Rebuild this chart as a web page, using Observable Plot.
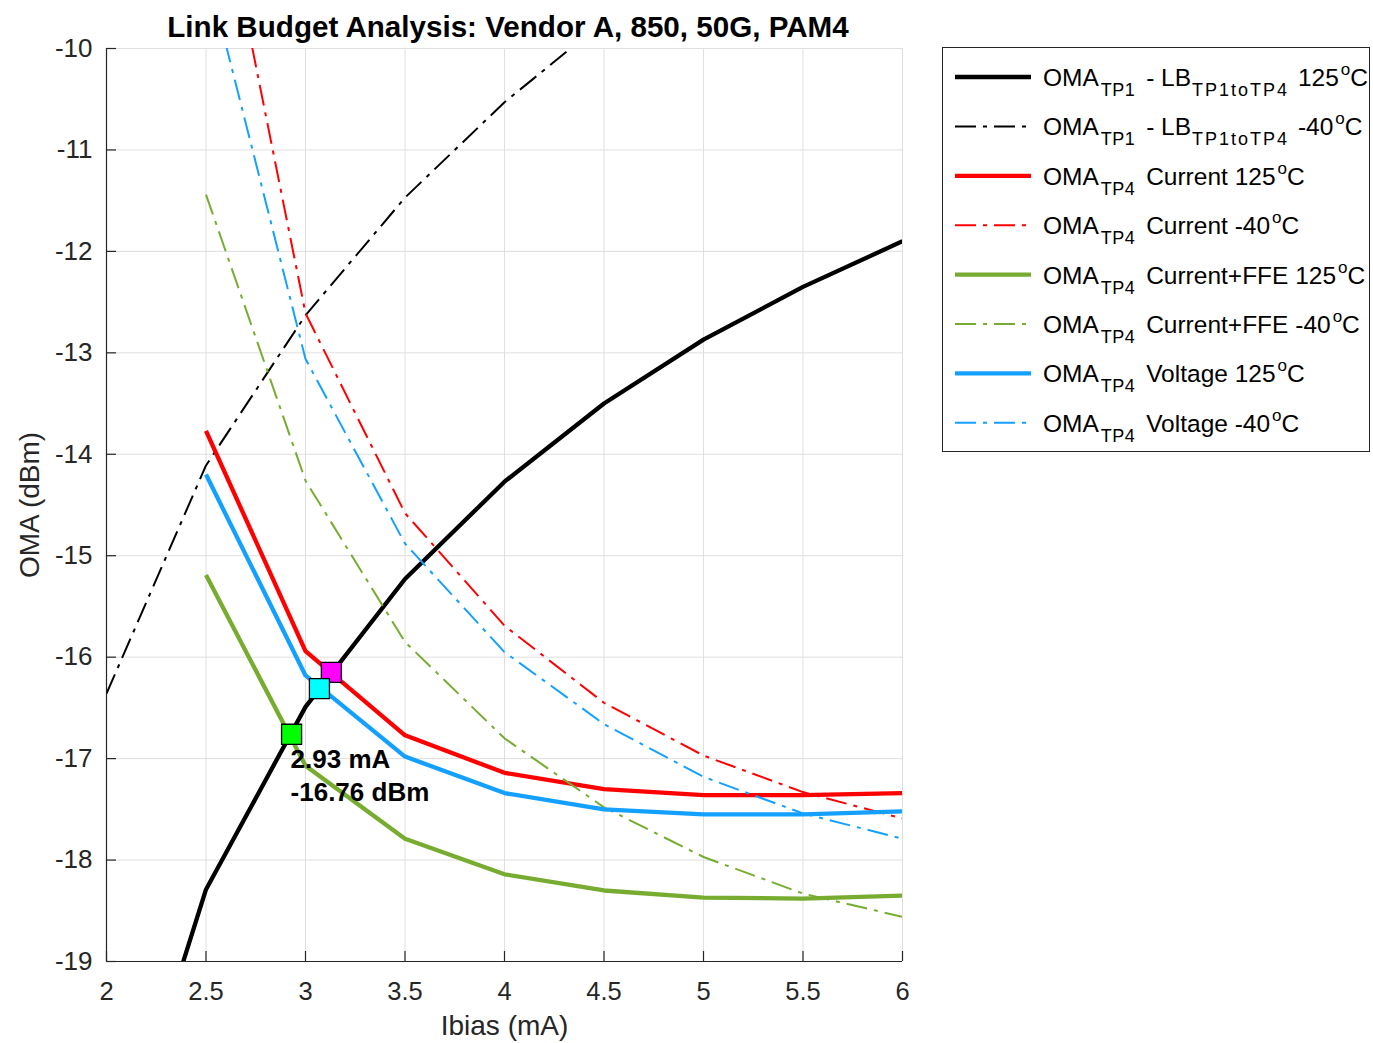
<!DOCTYPE html>
<html>
<head>
<meta charset="utf-8">
<script src="https://cdn.jsdelivr.net/npm/d3@7"></script>
<script src="https://cdn.jsdelivr.net/npm/@observablehq/plot@0.6"></script>
<style>
  body { margin: 0; background: #fff; font-family: "Liberation Sans", Arial, Helvetica, sans-serif; }
  #wrap { position: relative; width: 1373px; height: 1043px; overflow: hidden; }
  #title { position: absolute; left: 0; width: 1016px; top: 12px; text-align: center; font-weight: bold; font-size: 29.6px; line-height: 29px; color: #000; }
  #chart { position: absolute; left: 0; top: 0; }
  #legend { position: absolute; left: 942px; top: 47px; }
</style>
</head>
<body>
<div id="wrap">
  <div id="chart"></div>
  <div id="title">Link Budget Analysis: Vendor A, 850, 50G, PAM4</div>
  <div id="legend"></div>
</div>
<script>
// ---------- data ----------
const ibias = [2, 2.5, 3, 3.5, 4, 4.5, 5, 5.5, 6];
const lbTP1toTP4_125 = [-21.4, -18.29, -16.49, -15.23, -14.27, -13.50, -12.87, -12.35, -11.90];
const lbTP1toTP4_m40 = [-16.36, -14.11, -12.63, -11.47, -10.53, -9.73, null, null, null];
const current_125    = [null, -13.77, -15.94, -16.77, -17.14, -17.30, -17.36, -17.36, -17.34];
const current_m40    = [null, -7.72, -12.61, -14.58, -15.69, -16.45, -16.97, -17.33, -17.59];
const currentFFE_125 = [null, -15.19, -17.07, -17.79, -18.14, -18.30, -18.37, -18.38, -18.35];
const currentFFE_m40 = [null, -11.44, -14.26, -15.85, -16.80, -17.48, -17.97, -18.33, -18.56];
const voltage_125    = [null, -14.20, -16.18, -16.98, -17.34, -17.50, -17.55, -17.55, -17.52];
const voltage_m40    = [null, -9.19, -13.06, -14.88, -15.95, -16.66, -17.18, -17.54, -17.79];

const xTicks = [2, 2.5, 3, 3.5, 4, 4.5, 5, 5.5, 6];
const yTicks = [-19, -18, -17, -16, -15, -14, -13, -12, -11, -10];

// intersection markers
const markerX = [2.93, 3.13, 3.07];
const markerY = [-16.76, -16.15, -16.31];
const markerFill = ["#00ff00", "#ff00ff", "#00ffff"];

// legend entries: [main, sub, middle, sub2, temperature]
const legendParts = [
  ["OMA", "TP1", " - LB", "TP1toTP4", " 125"],
  ["OMA", "TP1", " - LB", "TP1toTP4", " -40"],
  ["OMA", "TP4", " Current 125", null, null],
  ["OMA", "TP4", " Current -40", null, null],
  ["OMA", "TP4", " Current+FFE 125", null, null],
  ["OMA", "TP4", " Current+FFE -40", null, null],
  ["OMA", "TP4", " Voltage 125", null, null],
  ["OMA", "TP4", " Voltage -40", null, null]
];

// ---------- styles ----------
const seriesValues = [lbTP1toTP4_125, lbTP1toTP4_m40, current_125, current_m40,
                      currentFFE_125, currentFFE_m40, voltage_125, voltage_m40];
const seriesColor = ["#000000", "#000000", "#ff0000", "#ff0000", "#77ac30", "#77ac30", "#14a0ff", "#14a0ff"];
const seriesSolid = [true, false, true, false, true, false, true, false];
const DASHDOT = "21,7,4,7";

const lineMarks = seriesValues.map((vals, i) => {
  const rows = ibias.map((x, j) => ({x, y: vals[j]})).filter(d => d.y != null);
  return Plot.line(rows, {
    x: "x", y: "y", stroke: seriesColor[i],
    strokeWidth: seriesSolid[i] ? 4.3 : 2,
    strokeDasharray: seriesSolid[i] ? null : DASHDOT,
    strokeLinecap: "butt", strokeLinejoin: "round",
    clip: true
  });
});

const markers = markerX.map((x, i) => ({x, y: markerY[i], fill: markerFill[i]}));

const W = 930, H = 1043, ML = 106, MR = 28, MT = 48, MB = 82;
const FW = W - ML - MR, FH = H - MT - MB;

const chart = Plot.plot({
  width: W, height: H,
  marginLeft: ML, marginRight: MR, marginTop: MT, marginBottom: MB,
  style: { fontFamily: '"Liberation Sans", Arial, Helvetica, sans-serif', fontSize: "25px", color: "#262626", background: "white", overflow: "visible" },
  x: { domain: [2, 6] },
  y: { domain: [-19, -10] },
  marks: [
    Plot.gridX(xTicks, { stroke: "#dfdfdf", strokeOpacity: 1, strokeWidth: 1 }),
    Plot.gridY(yTicks, { stroke: "#dfdfdf", strokeOpacity: 1, strokeWidth: 1 }),
    ...lineMarks,
    Plot.ruleX([2], { stroke: "#262626", strokeWidth: 1.2 }),
    Plot.ruleY([-19], { stroke: "#262626", strokeWidth: 1.2 }),
    Plot.ruleX(xTicks, { insetTop: FH - 10, stroke: "#262626", strokeWidth: 1.2 }),
    Plot.ruleY(yTicks, { insetRight: FW - 10, stroke: "#262626", strokeWidth: 1.2 }),
    Plot.axisX(xTicks, { tickSize: 0, tickPadding: 20, tickFormat: d => String(d), label: null, fontSize: 25.5, fill: "#262626" }),
    Plot.axisY(yTicks, { tickSize: 0, tickPadding: 14, tickFormat: d => String(d), label: null, fontSize: 26, fill: "#262626" }),
    Plot.text(["Ibias (mA)"], { frameAnchor: "bottom", dy: 73, fontSize: 28, fill: "#262626" }),
    Plot.text(["OMA (dBm)"], { frameAnchor: "left", textAnchor: "middle", dx: -76, rotate: -90, fontSize: 28, fill: "#262626" }),
    Plot.dot(markers, { x: "x", y: "y", fill: "fill", symbol: "square", r: 11.3, stroke: "#000", strokeWidth: 1.3 }),
    Plot.text(markers.slice(0, 1), {
      x: "x", y: "y", text: d => `${d.x} mA\n${d.y} dBm`,
      textAnchor: "start", lineAnchor: "top", dy: 10, dx: -1,
      fontWeight: "bold", fontSize: 26, lineHeight: 1.28, fill: "#000"
    })
  ]
});
document.getElementById("chart").appendChild(chart);

// ---------- legend ----------
const LW = 428, LH = 405;
const lsvg = d3.select("#legend").append("svg")
  .attr("width", LW + 6).attr("height", LH + 2)
  .style("overflow", "visible")
  .style("font-family", '"Liberation Sans", Arial, Helvetica, sans-serif');
lsvg.append("rect").attr("x", 0.5).attr("y", 0.5).attr("width", LW - 1).attr("height", LH - 1)
  .attr("fill", "white").attr("stroke", "#262626").attr("stroke-width", 1);

legendParts.forEach((parts, i) => {
  const cy = 30 + i * 49.4;
  lsvg.append("line")
    .attr("x1", 13).attr("x2", 89).attr("y1", cy).attr("y2", cy)
    .attr("stroke", seriesColor[i])
    .attr("stroke-width", seriesSolid[i] ? 4.3 : 2)
    .attr("stroke-dasharray", seriesSolid[i] ? null : DASHDOT);
  const t = lsvg.append("text").attr("x", 101).attr("y", cy + 9)
    .attr("font-size", 24.5).attr("fill", "#000").style("white-space", "pre");
  const [main, sub, mid, sub2, temp] = parts;
  t.append("tspan").text(main);
  t.append("tspan").attr("dy", 10).attr("dx", 2).attr("font-size", 18).attr("letter-spacing", 0.5).text(sub);
  if (sub2) {
    t.append("tspan").attr("dy", -10).attr("dx", 4).text(mid);
    t.append("tspan").attr("dy", 10).attr("dx", 1).attr("font-size", 18).attr("letter-spacing", 2).text(sub2);
    t.append("tspan").attr("dy", -10).attr("dx", 2).text(temp);
  } else {
    t.append("tspan").attr("dy", -10).attr("dx", 4).text(mid);
  }
  t.append("tspan").attr("dy", -11).attr("dx", 2).attr("font-size", 17).text("o");
  t.append("tspan").attr("dy", 11).text("C");
});
</script>
</body>
</html>
